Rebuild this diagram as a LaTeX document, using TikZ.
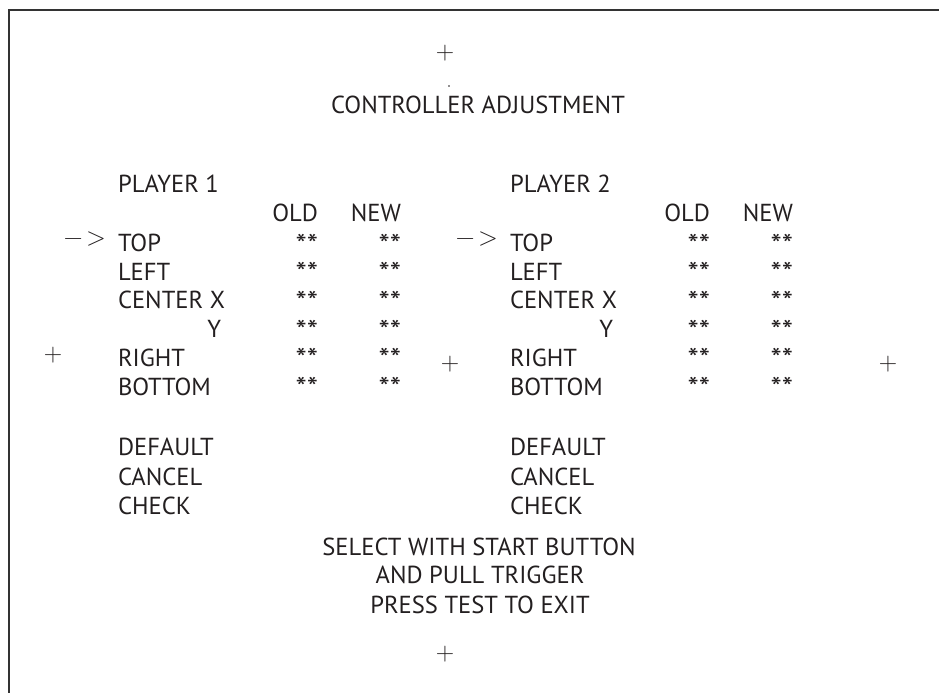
\documentclass[tikz,border=0pt]{standalone}
\usepackage{fontspec}
\setmainfont{PT Sans}
\newfontfamily\lmfont{Latin Modern Roman}
\definecolor{ink}{HTML}{231F20}
\definecolor{framec}{HTML}{333333}
\newcommand{\astpair}{\raisebox{-2.5pt}{\scalebox{1.3}[1.15]{**}}}
\begin{document}
\begin{tikzpicture}[x=1pt,y=-1pt,
  every node/.style={inner sep=0pt, outer sep=0pt, text=ink, font=\fontsize{24.6}{30}\selectfont},
  lbl/.style={anchor=base west},
  rlbl/.style={anchor=base east},
  clbl/.style={anchor=base},
  crossmk/.style={anchor=center, font=\lmfont\fontsize{25.5}{30}\selectfont},
  framel/.style={draw=framec, line width=2pt}
]
\useasboundingbox (0,0) rectangle (939,693);
% frame (top and left edges)
\coordinate (fTR) at (939,10);
\coordinate (fTL) at (9,10);
\coordinate (fBL) at (9,693);
\draw[framel] (fTR) -- (fTL) -- (fBL);

% crosshair marks
\node[crossmk] (plusT) at (445,53) {+};
\node[crossmk] (plusB) at (445,654) {+};
\node[crossmk] (plusL) at (53,355) {+};
\node[crossmk] (plusM) at (450,364) {+};
\node[crossmk] (plusR) at (888,364) {+};
\fill[ink] (449,86) circle (0.9);

% title
\node[clbl] (title) at (478,113) {CONTROLLER ADJUSTMENT};

% players
\foreach \p/\dx in {1/0, 2/392} {
  \node[lbl] (pl\p) at (118+\dx,192) {PLAYER \p};
  \node[rlbl] (old\p) at (318+\dx,221) {OLD};
  \node[rlbl] (new\p) at (401+\dx,221) {NEW};
  \node[crossmk, font=\lmfont\fontsize{26}{30}\selectfont] (arr\p) at (85+\dx,239.5) {−\kern3.5pt>};
  \node[lbl] (top\p) at (118+\dx,251.5) {TOP};
  \node[lbl] (left\p) at (118+\dx,280.2) {LEFT};
  \node[lbl] (cx\p) at (118+\dx,308.9) {CENTER X};
  \node[rlbl] (cy\p) at (221+\dx,337.6) {Y};
  \node[lbl] (right\p) at (118+\dx,366.3) {RIGHT};
  \node[lbl] (bot\p) at (118+\dx,395) {BOTTOM};
  \foreach \r/\b in {a/251.5, b/280.2, c/308.9, d/337.6, e/366.3, f/395} {
    \node[rlbl] (o\p\r) at (318+\dx,\b) {\astpair};
    \node[rlbl] (n\p\r) at (401+\dx,\b) {\astpair};
  }
  \node[lbl] (def\p) at (118+\dx,455) {DEFAULT};
  \node[lbl] (can\p) at (118+\dx,485) {CANCEL};
  \node[lbl] (chk\p) at (118+\dx,514) {CHECK};
}

% bottom instructions
\node[clbl] (sel) at (479,555) {SELECT WITH START BUTTON};
\node[clbl] (pull) at (480,583) {AND PULL TRIGGER};
\node[clbl] (exit) at (480,613) {PRESS TEST TO EXIT};
\end{tikzpicture}
\end{document}
